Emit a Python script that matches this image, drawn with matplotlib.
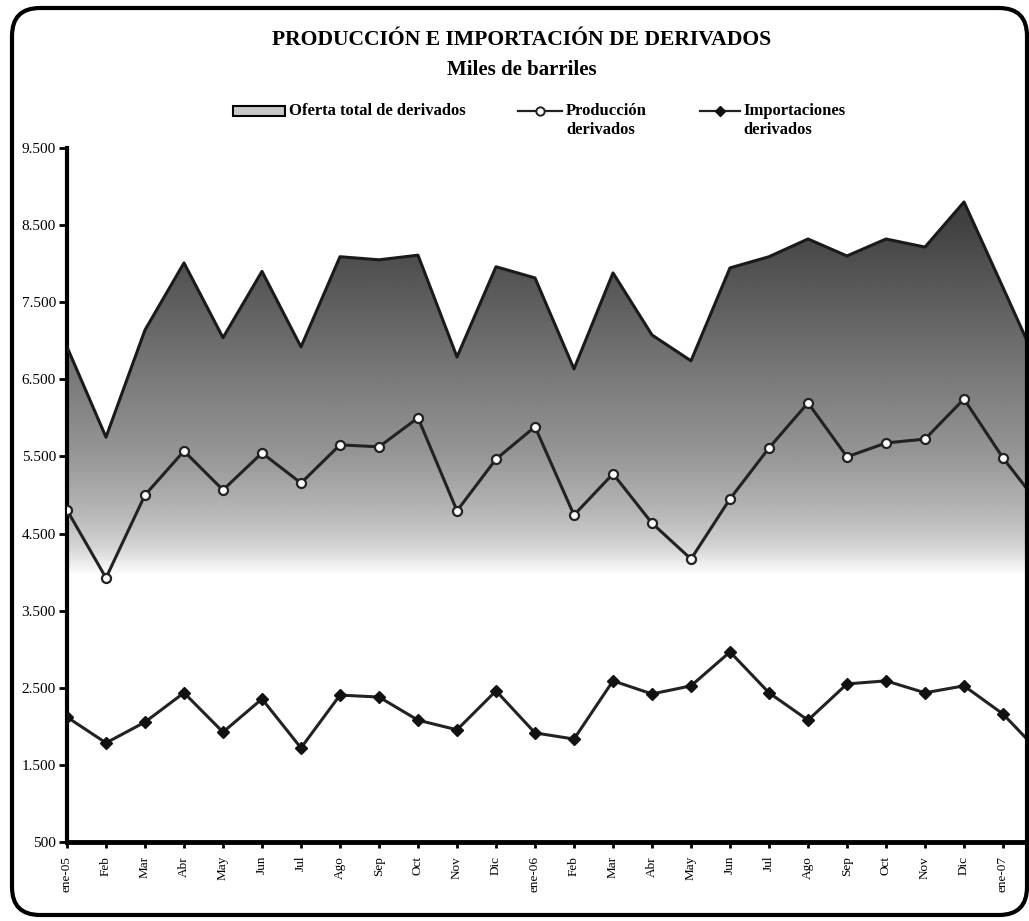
import numpy as np
import matplotlib
matplotlib.use("Agg")
import matplotlib.pyplot as plt
from matplotlib.patches import Polygon, FancyBboxPatch, Rectangle
from matplotlib.lines import Line2D
from matplotlib.transforms import IdentityTransform

plt.rcParams['font.family'] = ['Liberation Serif', 'DejaVu Serif']

# meses ene-05 ... feb-07 (el ultimo queda cortado en el borde)
meses = ['ene-05', 'Feb', 'Mar', 'Abr', 'May', 'Jun', 'Jul', 'Ago', 'Sep', 'Oct', 'Nov', 'Dic',
         'ene-06', 'Feb', 'Mar', 'Abr', 'May', 'Jun', 'Jul', 'Ago', 'Sep', 'Oct', 'Nov', 'Dic',
         'ene-07', 'Feb']
oferta_total = [6920, 5750, 7140, 8010, 7040, 7900, 6920, 8090, 8050, 8110, 6790, 7960,
                7815, 6635, 7880, 7075, 6740, 7945, 8090, 8320, 8100, 8320, 8215, 8800,
                7690, 6570]
produccion = [4805, 3925, 5000, 5570, 5065, 5545, 5155, 5650, 5625, 6000, 4795, 5465,
              5885, 4740, 5275, 4635, 4170, 4950, 5610, 6195, 5495, 5675, 5725, 6245,
              5480, 4830]
importaciones = [2120, 1785, 2055, 2435, 1925, 2355, 1720, 2405, 2380, 2080, 1955, 2460,
                 1915, 1835, 2590, 2420, 2525, 2965, 2435, 2080, 2550, 2590, 2435, 2525,
                 2160, 1630]
y_ticks = [500, 1500, 2500, 3500, 4500, 5500, 6500, 7500, 8500, 9500]

x = np.arange(len(meses))

fig = plt.figure(figsize=(10.29, 9.21), dpi=100)
ax = fig.add_axes([67 / 1029, 79 / 921, (1029 - 67) / 1029, 694 / 921])

# relleno con degradado (oscuro arriba, blanco abajo)
yy = np.linspace(500, 9500, 600)
gris = np.interp(yy, [500, 3950, 4350, 4750, 5500, 6500, 7500, 8500, 9500],
                 [1.0, 1.0, 0.82, 0.72, 0.59, 0.48, 0.37, 0.26, 0.2])
img = np.tile(gris[:, None], (1, 2))
im = ax.imshow(img, cmap='gray', vmin=0, vmax=1, origin='lower', aspect='auto',
               extent=[x[0], x[-1], 500, 9500], zorder=1, interpolation='bilinear')
verts = [(x[0], 500)] + list(zip(x, oferta_total)) + [(x[-1], 500)]
poly = Polygon(verts, facecolor='none', edgecolor='none', transform=ax.transData)
ax.add_patch(poly)
im.set_clip_path(poly)
ax.plot(x, oferta_total, color='#1a1a1a', lw=2.2, zorder=3)

ax.plot(x, produccion, color='#222222', lw=2.2, marker='o', ms=6.5,
        mfc='white', mec='#222222', mew=1.6, zorder=4)
ax.plot(x, importaciones, color='#222222', lw=2.2, marker='D', ms=6,
        mfc='#111111', mec='#111111', zorder=4)

ax.set_xticks(x)
ax.set_xticklabels(meses, rotation=90, fontsize=9.5)
ax.set_yticks(y_ticks)
ax.set_yticklabels([f'{v:,}'.replace(',', '.') for v in y_ticks], fontsize=11)
ax.set_xlim(0, (1029 - 67) / 39.0)
ax.set_ylim(500, 9500)
for s in ['top', 'right']:
    ax.spines[s].set_visible(False)
ax.spines['left'].set_linewidth(3)
ax.spines['bottom'].set_linewidth(3.5)
ax.tick_params(axis='y', length=6, width=2, pad=2)
ax.tick_params(axis='x', length=4, width=2, pad=6)
ax.set_facecolor('white')

# marco redondeado
marco = FancyBboxPatch((12, 6), 1015, 907, boxstyle='round,pad=0,rounding_size=28',
                       transform=IdentityTransform(), facecolor='none',
                       edgecolor='black', lw=3, zorder=10)
fig.patches.append(marco)

fig.text(522 / 1029, 1 - 40 / 921, 'PRODUCCIÓN E IMPORTACIÓN DE DERIVADOS',
         ha='center', va='center', fontsize=15.6, fontweight='bold')
fig.text(522 / 1029, 1 - 70 / 921, 'Miles de barriles',
         ha='center', va='center', fontsize=15, fontweight='bold')

# leyenda manual
ly = 1 - 111 / 921
fig.patches.append(Rectangle((233 / 1029, ly - 5 / 921), 52 / 1029, 10 / 921,
                             transform=fig.transFigure, facecolor='#c8c8c8',
                             edgecolor='black', lw=1.5))
fig.text(289 / 1029, ly, 'Oferta total de derivados', ha='left', va='center',
         fontsize=12, fontweight='bold')
fig.lines.append(Line2D([518 / 1029, 562 / 1029], [ly, ly], transform=fig.transFigure,
                        color='#222222', lw=1.6))
fig.lines.append(Line2D([540 / 1029], [ly], transform=fig.transFigure, marker='o',
                        ms=6, mfc='white', mec='#222222', mew=1.4, ls='none'))
fig.text(566 / 1029, ly, 'Producción', ha='left', va='center', fontsize=12, fontweight='bold')
fig.text(566 / 1029, ly - 19 / 921, 'derivados', ha='left', va='center', fontsize=12,
         fontweight='bold')
fig.lines.append(Line2D([700 / 1029, 740 / 1029], [ly, ly], transform=fig.transFigure,
                        color='#222222', lw=1.6))
fig.lines.append(Line2D([720 / 1029], [ly], transform=fig.transFigure, marker='D',
                        ms=5.5, mfc='#111111', mec='#111111', ls='none'))
fig.text(743 / 1029, ly, 'Importaciones', ha='left', va='center', fontsize=12,
         fontweight='bold')
fig.text(743 / 1029, ly - 19 / 921, 'derivados', ha='left', va='center', fontsize=12,
         fontweight='bold')

fig.savefig('out.png', dpi=100)
